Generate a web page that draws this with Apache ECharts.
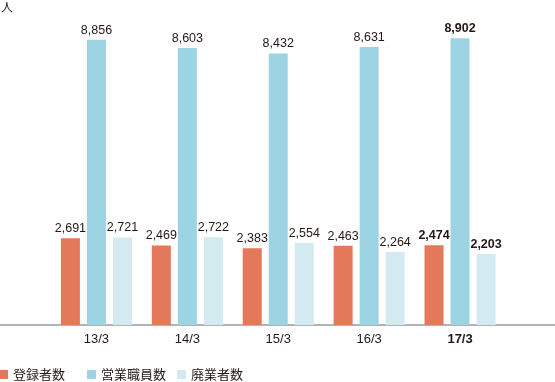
<!DOCTYPE html>
<html>
<head>
<meta charset="utf-8">
<script src="https://cdn.jsdelivr.net/npm/echarts@6/dist/echarts.min.js"></script>
<style>html,body{margin:0;padding:0;background:#fff}#c{width:555px;height:382px}</style>
</head>
<body>
<div id="c"></div>
<script>
const categories = ['13/3', '14/3', '15/3', '16/3', '17/3'];
const registered = [2691, 2469, 2383, 2463, 2474];
const staff = [8856, 8603, 8432, 8631, 8902];
const closed = [2721, 2722, 2554, 2264, 2203];
const seriesNames = ['登録者数', '営業職員数', '廃業者数'];
const unitLabel = '人';

const colors = ['#e3785a', '#9cd4e3', '#d3eaf0'];
const legendLefts = [-1, 87, 177];
const boldIndex = categories.length - 1;
const fontFamily = 'Liberation Sans, Arial, sans-serif';
const cjkFont = 'Noto Sans CJK JP';

function mkData(arr) {
  return arr.map((v, i) => i === boldIndex ? { value: v, label: { fontWeight: 'bold' } } : v);
}
function mkSeries(name, arr, idx) {
  return {
    name: name, type: 'bar', data: mkData(arr), xAxisIndex: 0, yAxisIndex: 0,
    barWidth: 19, barGap: '37%',
    itemStyle: { color: colors[idx] },
    label: {
      show: true, position: 'top', distance: 3, color: '#231815', fontSize: 12.5,
      fontFamily: fontFamily,
      formatter: p => p.value.toLocaleString('en-US')
    }
  };
}

const chart = echarts.init(document.getElementById('c'), null, { renderer: 'canvas' });
chart.setOption({
  animation: false,
  textStyle: { fontFamily: fontFamily },
  grid: [
    { left: 51, right: 49.5, top: 3, bottom: 57 },
    { left: 0, right: 0, top: 3, bottom: 57 }
  ],
  graphic: [{
    type: 'text', left: 1, top: 1,
    style: { text: unitLabel, fontSize: 12, fill: '#231815', fontFamily: cjkFont }
  }],
  legend: seriesNames.map((n, i) => ({
    left: legendLefts[i], top: 368, padding: 0, icon: 'rect', itemWidth: 9, itemHeight: 9,
    textStyle: { fontSize: 13, color: '#231815', fontFamily: cjkFont },
    data: [n]
  })),
  xAxis: [
    {
      type: 'category', data: categories, gridIndex: 0,
      axisLine: { show: false }, axisTick: { show: false },
      axisLabel: {
        margin: 8, fontSize: 13, color: '#231815',
        formatter: (v, i) => i === boldIndex ? '{b|' + v + '}' : v,
        rich: { b: { fontWeight: 'bold', fontSize: 13, color: '#231815' } }
      }
    },
    {
      type: 'value', gridIndex: 1, min: 0, max: 1,
      axisLine: { show: true, lineStyle: { color: '#9a9a9a', width: 1.5 } },
      axisTick: { show: false }, axisLabel: { show: false }, splitLine: { show: false }
    }
  ],
  yAxis: [
    { type: 'value', gridIndex: 0, min: 0, max: 10000, show: false, splitLine: { show: false } },
    { type: 'value', gridIndex: 1, min: 0, max: 1, show: false, splitLine: { show: false } }
  ],
  series: [
    mkSeries(seriesNames[0], registered, 0),
    mkSeries(seriesNames[1], staff, 1),
    mkSeries(seriesNames[2], closed, 2)
  ]
});
</script>
</body>
</html>
